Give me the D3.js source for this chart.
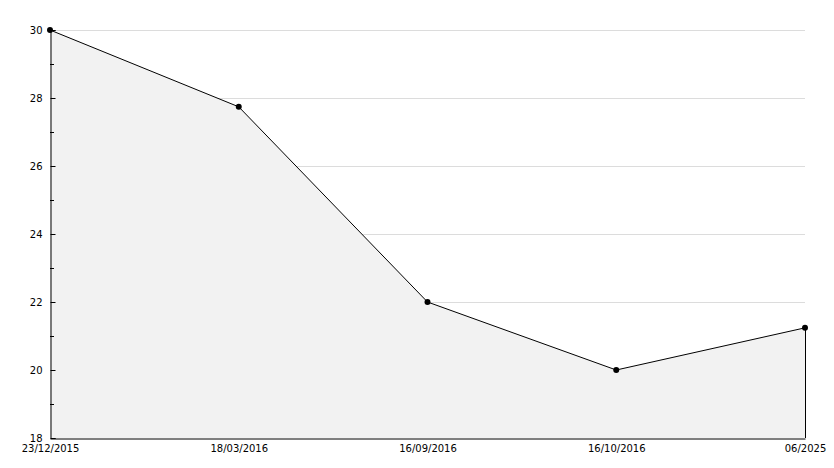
<!DOCTYPE html>
<html><head><meta charset="utf-8">
<script src="https://cdn.jsdelivr.net/npm/d3@7"></script>
<style>body{margin:0;background:#fff}svg{display:block}text{font-family:"DejaVu Sans",Verdana,sans-serif;font-size:10px;fill:#000}</style>
</head><body><svg id="c" width="834" height="468"></svg>
<script>
const categories = ["23/12/2015","18/03/2016","16/09/2016","16/10/2016","06/2025"];
const values = [30, 27.74, 22, 20, 21.24];
const yTicks = [18,20,22,24,26,28,30];
const yMinor = [19,21,23,25,27,29];

const svg = d3.select("#c");
const L=50, R=805, T=30, B=438;
const x = d3.scalePoint().domain(categories).range([L,R]);
const y = d3.scaleLinear().domain([18,30]).range([B,T]);
const data = categories.map((c,i)=>({c,v:values[i]}));

// gridlines
svg.append("g").selectAll("line").data(yTicks.filter(t=>t>18)).join("line")
  .attr("x1",L).attr("x2",R).attr("y1",d=>y(d)+0.5).attr("y2",d=>y(d)+0.5)
  .attr("stroke","#dcdcdc").attr("stroke-width",1);

// area
svg.append("path").datum(data)
  .attr("d",d3.area().x(d=>x(d.c)).y0(B).y1(d=>y(d.v)))
  .attr("fill","#f2f2f2");
// right edge
svg.append("line").attr("x1",R+0.5).attr("x2",R+0.5).attr("y1",y(values[values.length-1])).attr("y2",B)
  .attr("stroke","#000");

// line
svg.append("path").datum(data)
  .attr("d",d3.line().x(d=>x(d.c)).y(d=>y(d.v)))
  .attr("fill","none").attr("stroke","#000").attr("stroke-width",1);

// axes
const yAxis = d3.axisRight(y).tickValues(yTicks).tickSize(5).tickFormat(d3.format("d"));
const gy = svg.append("g").attr("transform",`translate(${L+0.5},0)`).call(yAxis);
gy.select(".domain").attr("stroke","#000");
gy.selectAll("text").attr("text-anchor","end").attr("x",-8).attr("dy","0.35em");
gy.selectAll(".tick line").attr("stroke","#000");
svg.append("g").selectAll("line").data(yMinor).join("line")
  .attr("x1",L).attr("x2",L+4).attr("y1",d=>y(d)+0.5).attr("y2",d=>y(d)+0.5).attr("stroke","#000");

const xAxis = d3.axisBottom(x).tickSize(0).tickPadding(6);
const gx = svg.append("g").attr("transform",`translate(0,${B+0.5})`).call(xAxis);
gx.select(".domain").attr("stroke","#000");
gx.selectAll("text").attr("dy","0.71em");

// markers
svg.append("g").selectAll("path").data(data).join("path")
  .attr("transform",d=>`translate(${x(d.c)},${y(d.v)})`)
  .attr("d",d3.symbol(d3.symbolCircle,28)).attr("fill","#000");
</script></body></html>
